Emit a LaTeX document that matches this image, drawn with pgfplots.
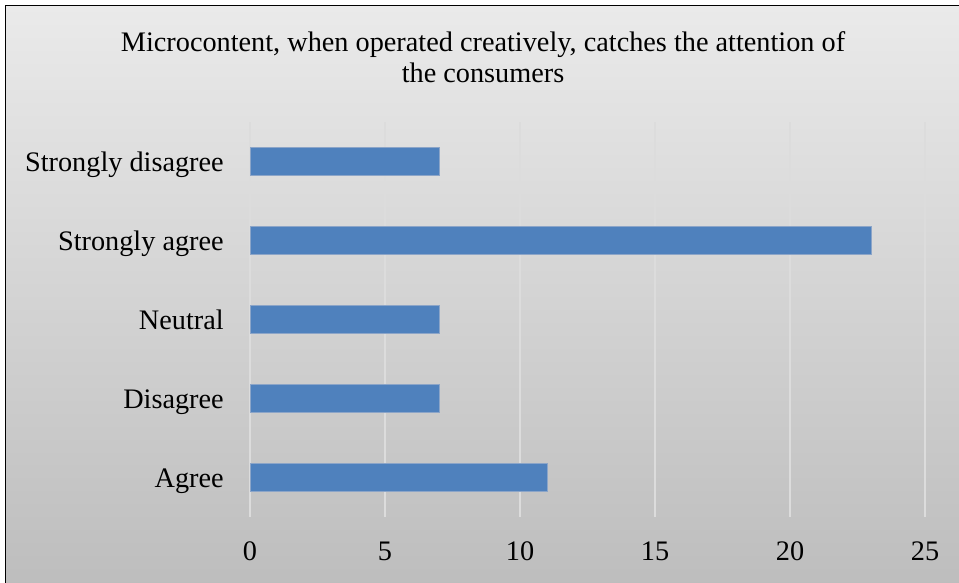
\documentclass[border=0pt]{standalone}
\usepackage{pgfplots}
\pgfplotsset{compat=1.18}
\usepackage{fontspec}
\setmainfont{Liberation Serif}
\definecolor{barblue}{HTML}{4F81BD}
\definecolor{baredge}{HTML}{8CA5C8}
\definecolor{gridc}{HTML}{DCDCDC}
\definecolor{bgtop}{HTML}{EAEAEA}
\definecolor{bgbot}{HTML}{BDBDBD}
\begin{document}
\begin{tikzpicture}
\clip (0pt,0pt) rectangle (719.25pt,436.5pt);
\path[use as bounding box] (0pt,0pt) rectangle (719.25pt,436.5pt);
\shade[top color=bgtop, bottom color=bgbot] (4.1pt,-4.5pt) rectangle (724.5pt,432.4pt);
\draw[black, line width=1.4pt] (4.1pt,-4.5pt) rectangle (724.5pt,432.4pt);
\node[anchor=base, inner sep=0] at (362.25pt,397.5pt) {\fontsize{21.2}{22}\selectfont Microcontent, when operated creatively, catches the attention of};
\node[anchor=base, inner sep=0] at (362.25pt,374.25pt) {\fontsize{21.2}{22}\selectfont the consumers};
\begin{axis}[
  at={(187.5pt,48.75pt)}, anchor=south west,
  scale only axis,
  width=506.25pt, height=296.25pt,
  xbar, bar width=21pt,
  xmin=0, xmax=25,
  ymin=-0.5, ymax=4.5,
  xtick={0,5,10,15,20,25},
  ytick={0,1,2,3,4},
  yticklabels={Agree,Disagree,Neutral,Strongly agree,Strongly disagree},
  axis line style={draw=none},
  major tick length=0pt,
  xmajorgrids,
  grid style={gridc, line width=1.1pt},
  tick label style={font=\fontsize{21.2}{22}\selectfont},
  xticklabel style={anchor=base, inner sep=0pt, yshift=-32.5pt},
  yticklabel style={anchor=base east, inner sep=0pt, xshift=-19.5pt, yshift=-7.5pt},
  /pgf/number format/assume math mode=true,
  clip=false,
]
\addplot[fill=barblue, draw=baredge, line width=0.6pt] coordinates {
  (11,0) (7,1) (7,2) (23,3) (7,4)
};
\end{axis}
\end{tikzpicture}
\end{document}
